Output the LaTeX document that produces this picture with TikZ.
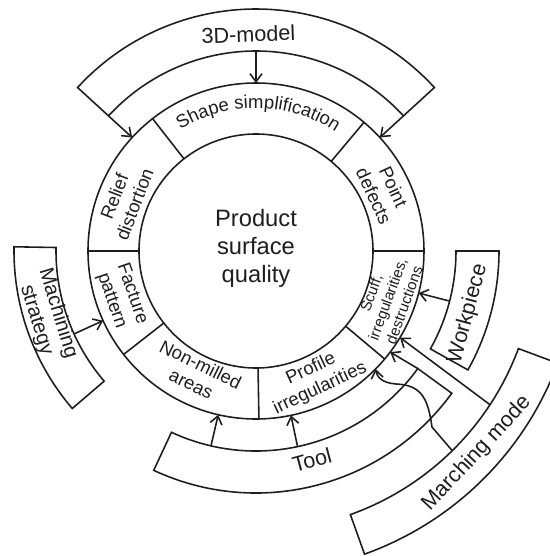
\documentclass[tikz,border=0pt]{standalone}
\usepackage{fontspec}
\setmainfont{Liberation Sans}
\usetikzlibrary{arrows.meta,decorations.text}
\definecolor{ink}{HTML}{1E1E1E}
\tikzset{
  ring/.style={draw=ink,line width=0.9pt},
  sourcebox/.style={draw=ink,line width=0.9pt},
  factor/.style={font=\fontsize{10.5}{12.3}\selectfont,align=center,text=ink,inner sep=0pt},
  smallfactor/.style={factor,font=\fontsize{8.6}{10}\selectfont},
  source/.style={font=\fontsize{12.3}{13.6}\selectfont,align=center,text=ink,inner sep=0pt},
  core/.style={font=\fontsize{13.5}{16}\selectfont,align=center,text=ink,inner sep=0pt},
  feed/.style={-{Straight Barb[length=1.6mm,width=2.4mm]},draw=ink,line width=0.9pt}
}

\begin{document}
\begin{tikzpicture}[x=0.02cm,y=0.02cm]
  \useasboundingbox (-256,-305) rectangle (294,251);
  \clip (-256,-305) rectangle (294,251);

  \draw[ring] (0,0) circle[radius=117];
  \draw[ring] (0,0) circle[radius=168];
  \foreach \a in {0,50,128,180,218,271,320}
    \draw[ring] (\a:117) -- (\a:168);

  \foreach \a/\b/\r/\R in {42.5/137.5/200/242, 179/220.6/200/242, -29.3/0/200/243,
                          -115/-36/200/242, -70.3/-20.4/280/322}
    \draw[sourcebox] (\a:\r) arc[start angle=\a,end angle=\b,radius=\r]
      -- (\b:\R) arc[start angle=\b,end angle=\a,radius=\R] -- cycle;

  \node[core] (quality) at (0,3) {Product\\surface\\quality};
  \path[decorate,decoration={text along path,text align=center,
      text={|\fontsize{10.5}{12}\selectfont\color{ink}|Shape simplification}}]
    (128:143) arc[start angle=128,end angle=50,radius=143];
  \node[factor,rotate=-65] (defects) at (25:141) {Point\\defects};
  \node[smallfactor,rotate=70] (scuff) at (-20:140) {Scuff,\\irregularities,\\destructions};
  \node[factor,rotate=25] (profile) at (-65:141) {Profile\\irregularities};
  \node[factor,rotate=-26] (nonmilled) at (-116:137) {Non-milled\\areas};
  \node[factor,rotate=-71] (facture) at (199:142) {Facture\\pattern};
  \node[factor,rotate=69] (relief) at (159:141) {Relief\\distortion};

  \node[source,rotate=2] (model) at (92:217) {3D-model};
  \node[source,font=\fontsize{11.6}{12.8}\selectfont,rotate=-73] (strategy) at (197.5:219) {Machining\\strategy};
  \node[source,rotate=75] (workpiece) at (-16.5:221) {Workpiece};
  \node[source,rotate=15] (tool) at (-75:216) {Tool};
  \node[source,rotate=47] (mode) at (-42.5:300) {Marching mode};

  \coordinate (model-w) at (137.5:200);
  \coordinate (model-c) at (90:200);
  \coordinate (model-e) at (42.5:200);
  \coordinate (strategy-in) at (204.5:200);
  \coordinate (workpiece-in) at (-14.5:200);
  \coordinate (tool-w) at (-103:200);
  \coordinate (tool-c) at (-78:200);
  \coordinate (tool-e) at (-36:200);
  \coordinate (mode-a) at (-33.3:280);
  \coordinate (mode-b) at (-45.5:280);

  \coordinate (relief-out) at (137.5:168);
  \coordinate (shape-out) at (90:168);
  \coordinate (defects-out) at (42.5:168);
  \coordinate (facture-out) at (204.5:168);
  \coordinate (scuff-out) at (-14.5:168);
  \coordinate (scuff-low) at (-37:168);
  \coordinate (scuff-tip) at (-31:168);
  \coordinate (nonmilled-out) at (-103:168);
  \coordinate (profile-out) at (-78:168);
  \coordinate (profile-tip) at (-44.6:168);

  \draw[feed] (model-w) -- (relief-out);
  \draw[feed] (model-c) -- (shape-out);
  \draw[feed] (model-e) -- (defects-out);
  \draw[feed] (strategy-in) -- (facture-out);
  \draw[feed] (workpiece-in) -- (scuff-out);
  \draw[feed] (tool-w) -- (nonmilled-out);
  \draw[feed] (tool-c) -- (profile-out);
  \draw[feed] (tool-e) -- (scuff-low);
  \draw[feed] (mode-a) -- (scuff-tip);
  \draw[feed] (mode-b) -- (176,-176) .. controls (172,-148) and (166,-134) .. (140,-133)
    .. controls (126,-132) and (121,-126) .. (profile-tip);
\end{tikzpicture}
\end{document}
